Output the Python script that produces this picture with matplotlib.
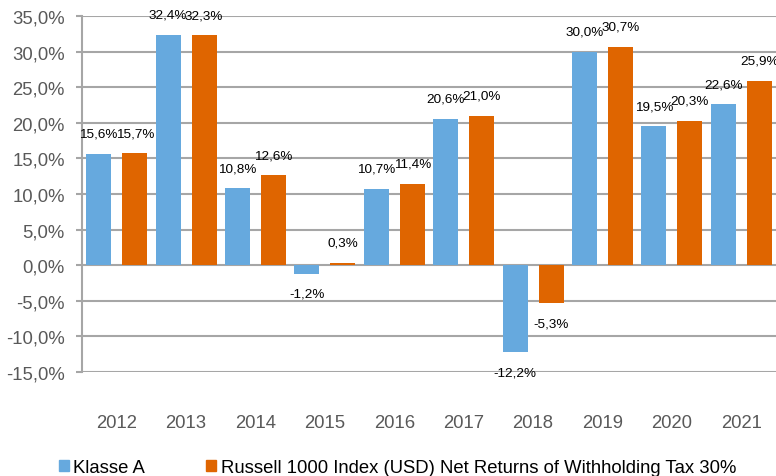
import matplotlib.pyplot as plt
import numpy as np
from matplotlib.patches import Patch

plt.rcParams['font.family'] = ['Liberation Sans', 'DejaVu Sans']

years = ['2012', '2013', '2014', '2015', '2016', '2017', '2018', '2019', '2020', '2021']
klasse_a = [15.6, 32.4, 10.8, -1.2, 10.7, 20.6, -12.2, 30.0, 19.5, 22.6]
russell = [15.7, 32.3, 12.6, 0.3, 11.4, 21.0, -5.3, 30.7, 20.3, 25.9]
series_names = ['Klasse A', 'Russell 1000 Index (USD) Net Returns of Withholding Tax 30%']

blue = '#66A9DE'
orange = '#DF6500'
grid_col = '#A6A6A6'
text_col = '#595959'


def fmt(v):
    return f"{v:.1f}".replace('.', ',') + '%'


fig = plt.figure(figsize=(7.76, 4.77), dpi=100)
ax = fig.add_axes([82 / 776, 1 - 373 / 477, 1 - 82 / 776, (373 - 17) / 477])

x = np.arange(len(years))
w = 0.36
off = 0.26
ax.bar(x - off, klasse_a, w, color=blue, zorder=3)
ax.bar(x + off, russell, w, color=orange, zorder=3)

# Datenbeschriftungen
for xs, vals in ((x - off, klasse_a), (x + off, russell)):
    for xi, v in zip(xs, vals):
        dy = 14.5 if v >= 0 else -14.5
        ax.annotate(fmt(v), (xi, v), xytext=(0, dy), textcoords='offset points',
                    ha='center', va='center', fontsize=9.7, color='black', zorder=4)

ax.set_xlim(-0.5, len(years) - 0.5)
ax.set_ylim(-15, 35)
ax.set_yticks(np.arange(-15, 36, 5))
ax.set_yticklabels([fmt(v) for v in np.arange(-15, 36, 5)], fontsize=13.3, color=text_col)
ax.set_xticks(x)
ax.set_xticklabels(years, fontsize=13.3, color=text_col)
ax.tick_params(axis='x', length=0, pad=30)
ax.tick_params(axis='y', length=4.5, width=1.5, color=grid_col, pad=8)

ax.yaxis.grid(True, color=grid_col, linewidth=1.5, zorder=0)
ax.set_axisbelow(True)
for s in ['top', 'right', 'bottom']:
    ax.spines[s].set_visible(False)
ax.spines['left'].set_color(grid_col)
ax.spines['left'].set_linewidth(1.5)

handles = [Patch(color=blue), Patch(color=orange)]
fig.legend(handles, series_names, loc='lower left', bbox_to_anchor=(55 / 776, -0.008),
           ncol=2, frameon=False, fontsize=13.3, handlelength=0.55, handleheight=0.55,
           handletextpad=0.25, columnspacing=3.3, borderpad=0.2, borderaxespad=0)

fig.savefig('out.png', dpi=100)
